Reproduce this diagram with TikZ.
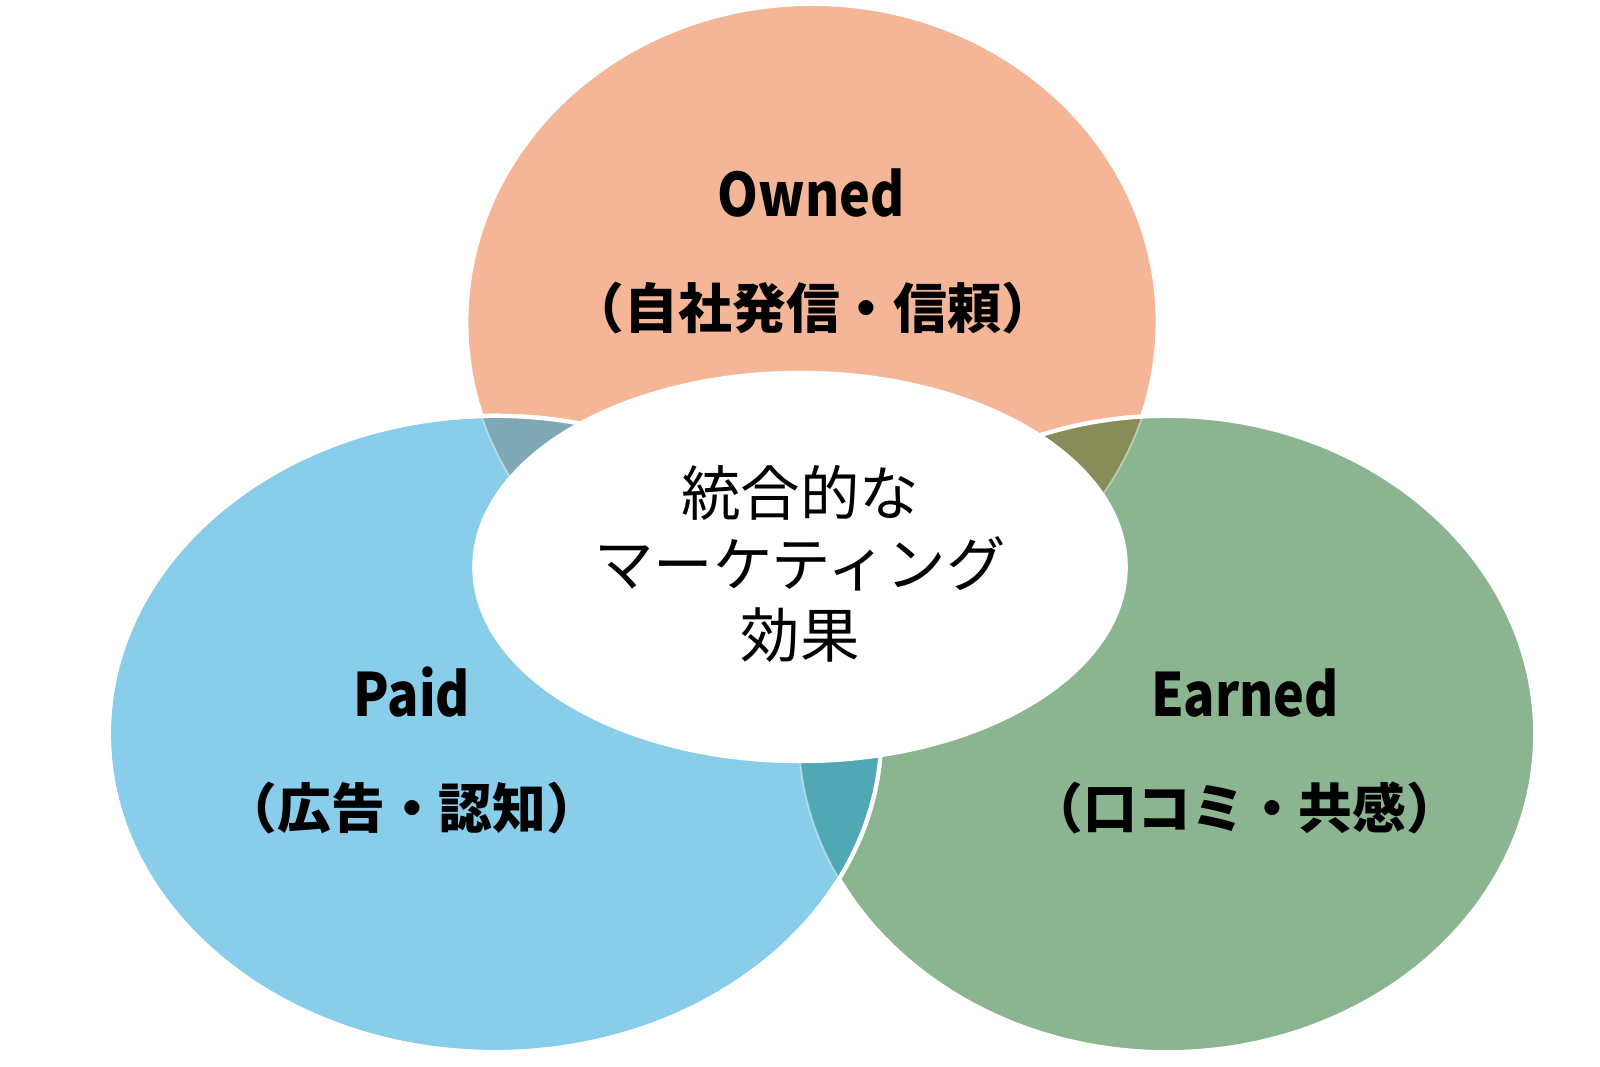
\documentclass[tikz,border=0pt]{standalone}
\usepackage{fontspec}
\newfontfamily\jp{Noto Sans CJK JP}
\newfontfamily\jpn{Noto Sans CJK JP}[FakeStretch=0.87]
\definecolor{cOwned}{HTML}{F4B697}
\definecolor{cPaid}{HTML}{88CDE9}
\definecolor{cEarned}{HTML}{8BB590}
\definecolor{cOP}{HTML}{7FA8B6}
\definecolor{cOE}{HTML}{878C59}
\definecolor{cPE}{HTML}{4FA8B4}
\tikzset{
  rim/.style={draw=white, line width=1.2pt},
  faint/.style={draw=white, draw opacity=0.45, line width=0.5pt},
  latin/.style={font=\jpn\bfseries\fontsize{17}{20}\selectfont, text=black, inner sep=0pt},
  cjk/.style={font=\jp\bfseries\fontsize{15.3}{18}\selectfont, text=black, inner sep=0pt},
  centertext/.style={font=\jp\fontsize{16.9}{20.2}\selectfont, align=center, text=black, inner sep=0pt},
}
\def\ownedE{(812,322) ellipse [x radius=3.455cm, y radius=3.18cm]}
\def\paidE{(495,734) ellipse [x radius=3.86cm, y radius=3.18cm]}
\def\earnedE{(1167,734) ellipse [x radius=3.68cm, y radius=3.18cm]}
\begin{document}
\begin{tikzpicture}[x=0.01cm, y=-0.01cm]
\useasboundingbox (0,0) rectangle (1600,1066);
% base fills
\path[fill=cOwned, rim] \ownedE;
\path[fill=cEarned, rim] \earnedE;
\path[fill=cPaid, rim] \paidE;
% overlaps
\begin{scope}
  \clip \ownedE;
  \fill[cOP] \paidE;
  \fill[cOE] \earnedE;
\end{scope}
\begin{scope}
  \clip \paidE;
  \fill[cPE] \earnedE;
  \path[faint] \earnedE;
\end{scope}
\path[faint] \ownedE;
% top-layer rims
\begin{scope}
  \clip \ownedE;
  \path[rim] \earnedE;
\end{scope}
\path[rim] \paidE;
% centre
\path[fill=white, rim] (800,567) ellipse [x radius=3.255cm, y radius=1.94cm];
% texts
\node[latin, anchor=base] (owned) at (811,216) {Owned};
\node[cjk] (ownedsub) at (813,308) {（自社発信・信頼）};
\node[latin, anchor=base] (paid) at (412,716) {Paid};
\node[cjk] (paidsub) at (412,808) {（広告・認知）};
\node[latin, anchor=base] (earned) at (1245,716) {Earned};
\node[cjk] (earnedsub) at (1245,808) {（口コミ・共感）};
\node[centertext] (centre) at (800,564) {統合的な\\マーケティング\\効果};
\end{tikzpicture}
\end{document}
